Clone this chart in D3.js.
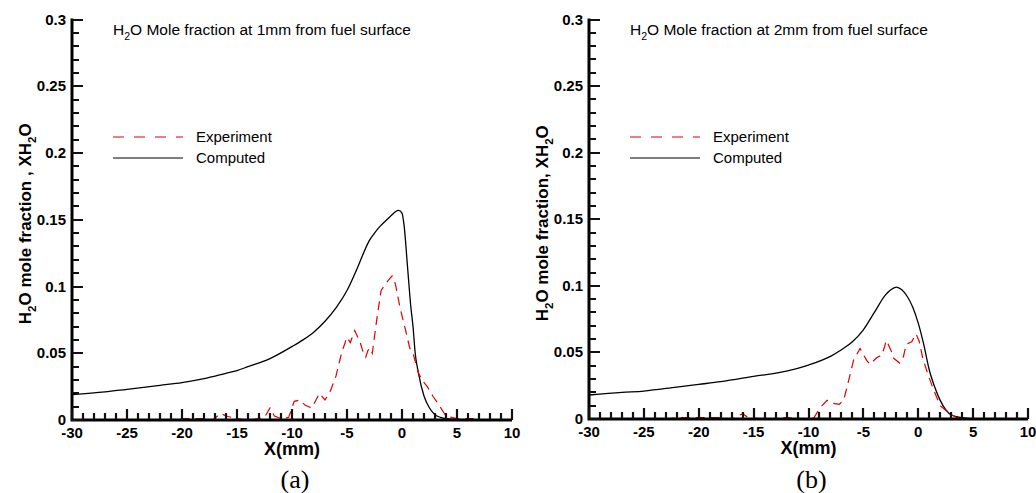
<!DOCTYPE html>
<html>
<head>
<meta charset="utf-8">
<script src="https://cdn.jsdelivr.net/npm/d3@7"></script>
<style>
  body { margin: 0; background: #fff; }
  svg { display: block; font-family: "Liberation Sans", Arial, sans-serif; }
</style>
</head>
<body>
<div id="chart"></div>
<script>
// ---- datos ----
const xTicks = [-30, -25, -20, -15, -10, -5, 0, 5, 10]
const yTicks = [0, 0.05, 0.1, 0.15, 0.2, 0.25, 0.3]

// (a) 1mm
const computedA = [
  [-30, 0.019], [-27, 0.021], [-25, 0.023], [-22, 0.026], [-20, 0.028], [-18, 0.031],
  [-16, 0.035], [-15, 0.037], [-14, 0.040], [-12, 0.046], [-10, 0.055], [-9, 0.060],
  [-8, 0.066], [-7, 0.074], [-6, 0.084], [-5, 0.097], [-4, 0.115], [-3.5, 0.125],
  [-3, 0.134], [-2.5, 0.140], [-2, 0.145], [-1.5, 0.149], [-1, 0.153], [-0.6, 0.156],
  [-0.3, 0.157], [0, 0.155], [0.2, 0.145], [0.5, 0.115], [0.8, 0.085], [1, 0.07],
  [1.2, 0.05], [1.5, 0.035], [2, 0.018], [2.5, 0.009], [3, 0.004], [3.5, 0.002],
  [4, 0.001], [5, 0.0005], [10, 0]
]
const experimentA = [
  [-21.5, 0], [-20, 0.001], [-19, 0.001], [-18, 0.001], [-17.2, 0], [-16.5, 0.005],
  [-16, 0.003], [-15, 0.001], [-14, 0], [-13, 0.001], [-12.5, 0.002], [-12, 0.009],
  [-11.6, 0.003], [-11, 0.001], [-10.3, 0.002], [-9.8, 0.014], [-9.3, 0.015],
  [-8.8, 0.011], [-8.2, 0.009], [-7.5, 0.02], [-7, 0.015], [-6.5, 0.022], [-6, 0.033],
  [-5.5, 0.05], [-5, 0.062], [-4.7, 0.058], [-4.3, 0.067], [-3.8, 0.058], [-3.5, 0.050],
  [-3.3, 0.047], [-3.1, 0.052], [-2.9, 0.054], [-2.7, 0.05], [-2.3, 0.075], [-1.9, 0.097],
  [-1.4, 0.103], [-0.9, 0.108], [-0.6, 0.102], [-0.2, 0.085], [0.3, 0.068], [0.7, 0.054],
  [1, 0.05], [1.5, 0.035], [1.9, 0.029], [2.3, 0.025], [2.8, 0.018], [3.3, 0.012],
  [4, 0.003], [5, 0.001], [6.5, 0.001]
]

// (b) 2mm
const computedB = [
  [-30, 0.018], [-27, 0.020], [-25, 0.021], [-22, 0.024], [-20, 0.026], [-18, 0.028],
  [-15, 0.032], [-12, 0.036], [-10, 0.0405], [-8, 0.047], [-7, 0.052], [-6, 0.058],
  [-5, 0.067], [-4, 0.080], [-3, 0.093], [-2.5, 0.097], [-2, 0.099], [-1.5, 0.097],
  [-1, 0.092], [-0.5, 0.084], [0, 0.072], [0.5, 0.056], [1, 0.037], [1.5, 0.024],
  [2, 0.014], [2.5, 0.007], [3, 0.003], [4, 0.001], [5, 0.0003], [10, 0]
]
const experimentB = [
  [-23, 0], [-22, 0.001], [-20, 0.001], [-18, 0.001], [-17, 0], [-16, 0.004],
  [-15.5, 0.001], [-14, 0], [-12, 0.001], [-10, 0], [-9.5, 0.001], [-8.9, 0.009],
  [-8.3, 0.014], [-7.9, 0.012], [-7.2, 0.011], [-6.8, 0.014], [-6.4, 0.027],
  [-5.9, 0.044], [-5.3, 0.053], [-4.7, 0.044], [-4.4, 0.041], [-3.8, 0.046],
  [-3.3, 0.048], [-2.9, 0.059], [-2.4, 0.050], [-2.3, 0.046], [-1.7, 0.042],
  [-1.4, 0.045], [-1.1, 0.056], [-0.6, 0.058], [-0.2, 0.064], [0.1, 0.058],
  [0.4, 0.046], [0.9, 0.033], [1.4, 0.022], [2, 0.010], [2.9, 0.004], [3.5, 0.001],
  [5, 0]
]

const paneles = [
  { left: 72, right: 512, top: 19.5, bottom: 420, mm: "1mm", comma: " ,", letra: "(a)",
    computed: computedA, experiment: experimentA },
  { left: 589, right: 1028, top: 19.5, bottom: 419, mm: "2mm", comma: ",", letra: "(b)",
    computed: computedB, experiment: experimentB }
]

const ancho = 1036
const alto = 493

const svg = d3.select("#chart").append("svg").attr("width", ancho).attr("height", alto)

// texto con subindices: partes = [[texto, esSub, volver], ...]
function textoSub(sel, partes, size) {
  partes.forEach(t => {
    sel.append("tspan")
      .attr("font-size", t[1] ? size * 0.68 : size)
      .attr("dy", t[1] ? size * 0.3 : (t[2] ? -size * 0.3 : 0))
      .text(t[0])
  })
}

paneles.forEach(p => {
  const g = svg.append("g")
  const x = d3.scaleLinear().domain([-30, 10]).range([p.left, p.right])
  const y = d3.scaleLinear().domain([0, 0.3]).range([p.bottom, p.top])

  // curvas
  const linea = d3.line().x(d => x(d[0])).y(d => y(d[1])).curve(d3.curveMonotoneX)
  g.append("path").datum(p.computed)
    .attr("d", linea).attr("fill", "none").attr("stroke", "#000").attr("stroke-width", 1.3)
  g.append("path").datum(p.experiment)
    .attr("d", d3.line().x(d => x(d[0])).y(d => y(d[1])))
    .attr("fill", "none").attr("stroke", "#e00000").attr("stroke-width", 1.2)
    .attr("stroke-dasharray", "9,6")

  // ejes: linea gruesa + ticks hacia dentro (x cada 1 mm, y cada 0.01)
  const ejes = d3.path()
  ejes.moveTo(p.left, p.top - 1)
  ejes.lineTo(p.left, p.bottom)
  ejes.lineTo(p.right, p.bottom)
  g.append("path").attr("d", ejes.toString())
    .attr("fill", "none").attr("stroke", "#000").attr("stroke-width", 3)

  const marcas = d3.path()
  x.ticks(40).forEach(d => {
    const px = Math.round(x(d))
    marcas.moveTo(px, p.bottom)
    marcas.lineTo(px, p.bottom - (Math.abs(d) % 5 === 0 ? 11 : 7))
  })
  y.ticks(30).forEach((d, i) => {
    const py = Math.round(y(d))
    marcas.moveTo(p.left, py)
    marcas.lineTo(p.left + (i % 5 === 0 ? 11 : 7), py)
  })
  g.append("path").attr("d", marcas.toString())
    .attr("fill", "none").attr("stroke", "#111").attr("stroke-width", 2.2)

  g.selectAll(".xlab").data(xTicks).enter().append("text").attr("class", "xlab")
    .attr("x", d => x(d)).attr("y", p.bottom + 18)
    .attr("text-anchor", "middle").attr("font-size", 15).attr("font-weight", "bold")
    .text(d => d)
  g.selectAll(".ylab").data(yTicks).enter().append("text").attr("class", "ylab")
    .attr("x", p.left - 6).attr("y", d => y(d) + 5)
    .attr("text-anchor", "end").attr("font-size", 15).attr("font-weight", "bold")
    .text(d => d)

  // titulos de eje
  g.append("text").attr("x", (p.left + p.right) / 2).attr("y", p.bottom + 35)
    .attr("text-anchor", "middle").attr("font-size", 18).attr("font-weight", "bold").text("X(mm)")
  const yt = g.append("text")
    .attr("transform", `translate(${p.left - 41},${(p.top + p.bottom) / 2 + 4}) rotate(-90)`)
    .attr("text-anchor", "middle").attr("font-size", 17).attr("font-weight", "bold")
  textoSub(yt, [["H"], ["2", true], ["O mole fraction" + p.comma + " XH", false, true], ["2", true], ["O", false, true]], 17)

  // titulo del panel
  const tt = g.append("text").attr("x", p.left + 41).attr("y", 35).attr("font-size", 15.5)
  textoSub(tt, [["H"], ["2", true], ["O Mole fraction at " + p.mm + " from fuel surface", false, true]], 15.5)

  // leyenda
  const lx = p.left + 41
  g.append("line").attr("x1", lx).attr("x2", lx + 70).attr("y1", 137).attr("y2", 137)
    .attr("stroke", "#e00000").attr("stroke-width", 1.2).attr("stroke-dasharray", "11,10")
  g.append("text").attr("x", lx + 83).attr("y", 142).attr("font-size", 15).text("Experiment")
  g.append("line").attr("x1", lx).attr("x2", lx + 70).attr("y1", 158).attr("y2", 158)
    .attr("stroke", "#000").attr("stroke-width", 1.2)
  g.append("text").attr("x", lx + 83).attr("y", 163).attr("font-size", 15).text("Computed")

  // letra del panel
  g.append("text").attr("x", (p.left + p.right) / 2 + 3).attr("y", 488)
    .attr("text-anchor", "middle").attr("font-family", "'Liberation Serif', 'Times New Roman', serif")
    .attr("font-size", 26).text(p.letra)
})
</script>
</body>
</html>
